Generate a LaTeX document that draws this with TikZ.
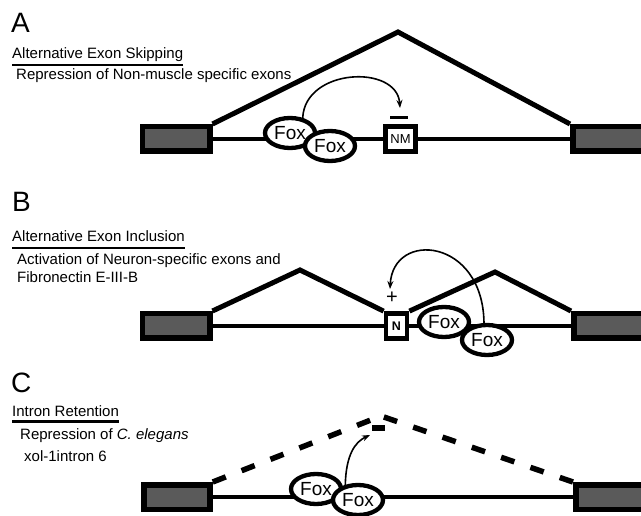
\documentclass[tikz,border=0pt]{standalone}
\usepackage{fontspec}
\setmainfont{Liberation Sans}
\usetikzlibrary{shapes.geometric,arrows.meta,backgrounds}
\definecolor{exongray}{HTML}{5A5A5A}

\begin{document}
\begin{tikzpicture}[x=1pt,y=-1pt,
  panel/.style={font=\fontsize{28}{28}\selectfont, inner sep=0, anchor=base west},
  heading/.style={font=\fontsize{15}{15}\selectfont, inner sep=0, anchor=base west},
  ul/.style={line width=2.4pt},
  exon/.style={draw, line width=5.5pt, fill=exongray, minimum height=24.5pt, inner sep=0},
  altexon/.style={draw, line width=4.8pt, fill=white, minimum height=25pt, inner sep=0},
  intron/.style={line width=4.2pt},
  splice/.style={line width=5pt, line join=miter},
  fox/.style={draw, ellipse, line width=4.3pt, fill=white, minimum width=50pt,
              minimum height=30pt, inner sep=0, font=\fontsize{19}{19}\selectfont},
  act/.style={line width=1.6pt, -{Stealth[length=8pt,width=6pt]}},
]
\useasboundingbox (0,0) rectangle (641,516);

% ---------------- A: exon skipping ----------------
\node[panel] (la) at (11,33) {A};
\node[heading] (ta) at (12,59) {Alternative Exon Skipping};
\draw[ul] ([yshift=-6pt]ta.base west) -- ([yshift=-6pt]ta.base east);
\node[heading] (sa) at (16,80) {Repression of Non-muscle specific exons};

\node[exon, minimum width=67.5pt] (a1) at (176,139) {};
\node[exon, minimum width=74.5pt] (a2) at (610,139) {};
\node[altexon, minimum width=30pt, font=\fontsize{13}{13}\selectfont] (nm) at (400.5,139) {NM};
\coordinate (apk) at (398,32);
\coordinate (ma) at (400,108);
\draw[line width=3pt] (390,118) -- (408,118);
\node[fox] (fa1) at (290,133) {Fox};
\node[fox] (fa2) at (330,146) {Fox};

% ---------------- B: exon inclusion ----------------
\node[panel] (lb) at (12,212) {B};
\node[heading] (tb) at (12,242) {Alternative Exon Inclusion};
\draw[ul] ([yshift=-6pt]tb.base west) -- ([yshift=-6pt]tb.base east);
\node[heading] (sb1) at (17,265) {Activation of Neuron-specific exons and};
\node[heading] (sb2) at (17,283) {Fibronectin E-III-B};

\node[exon, minimum width=67.5pt] (b1) at (176,326) {};
\node[exon, minimum width=74.5pt] (b2) at (611,326) {};
\node[altexon, minimum width=21pt, font=\bfseries\fontsize{12.5}{12.5}\selectfont] (nb) at (396.5,326) {N};
\coordinate (bpk1) at (300,270);
\coordinate (bpk2) at (495,272);
\coordinate (pb) at (390,289);
\node[font=\fontsize{20}{20}\selectfont, inner sep=0] (plus) at (392,298) {+};
\node[fox] (fb1) at (444,322) {Fox};
\node[fox] (fb2) at (487,340) {Fox};

% ---------------- C: intron retention ----------------
\node[panel] (lc) at (11,392) {C};
\node[heading] (tc) at (12,416) {Intron Retention};
\draw[ul] ([yshift=-5.5pt]tc.base west) -- ([yshift=-5.5pt]tc.base east);
\node[heading] (sc1) at (20,439) {Repression of \textit{C. elegans}};
\node[heading] (sc2) at (24,461) {xol-1intron 6};

\node[exon, minimum width=66pt] (c1) at (177,497) {};
\node[exon, minimum width=74.5pt] (c2) at (613,497) {};
\coordinate (cpk) at (381,416);
\coordinate (cb) at (370,435);
\fill (372,425) rectangle (385,431);
\node[fox] (fc1) at (316,489) {Fox};
\node[fox] (fc2) at (358,500) {Fox};

% ---------------- connectors behind the nodes ----------------
\begin{scope}[on background layer]
  % A
  \draw[splice] (a1.north east) -- (apk) -- (a2.north west);
  \draw[intron] (a1) -- (nm) -- (a2);
  \draw[act] (fa1.50) .. controls (305,68) and (397,64) .. (ma);
  % B
  \draw[splice] (b1.north east) -- (bpk1) -- (nb.north west);
  \draw[splice] (nb.north east) -- (bpk2) -- (b2.north west);
  \draw[intron] (b1) -- (nb) -- (b2);
  \draw[act] (fb2.100) .. controls (483,238) and (393,230) .. (pb);
  % C
  \draw[line width=5.5pt, dash pattern=on 14pt off 17pt] (c1.north east) -- (cpk);
  \draw[line width=5.5pt, dash pattern=on 14pt off 17pt] (c2.north west) -- (cpk);
  \draw[intron] (c1) -- (c2);
  \draw[act] (fc2.130) .. controls (346,455) and (355,442) .. (cb);
\end{scope}
\end{tikzpicture}
\end{document}
